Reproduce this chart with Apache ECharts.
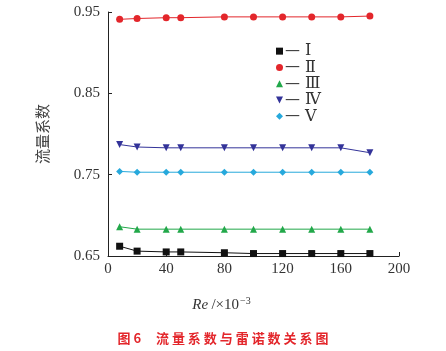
<!DOCTYPE html>
<html>
<head>
<meta charset="utf-8">
<script src="https://cdn.jsdelivr.net/npm/echarts@6/dist/echarts.min.js"></script>
<style>
  html, body { margin: 0; padding: 0; background: #fff; }
  #main { width: 446px; height: 351px; }
</style>
</head>
<body>
<div id="main"></div>
<script>
// 流量系数与雷诺数关系
var reValues = [8, 20, 40, 50, 80, 100, 120, 140, 160, 180];
var seriesNames = ['Ⅰ', 'Ⅱ', 'Ⅲ', 'Ⅳ', 'Ⅴ'];
var coefI   = [0.662, 0.656, 0.655, 0.655, 0.654, 0.653, 0.653, 0.653, 0.653, 0.653];
var coefII  = [0.941, 0.942, 0.943, 0.943, 0.944, 0.944, 0.944, 0.944, 0.944, 0.945];
var coefIII = [0.686, 0.683, 0.683, 0.683, 0.683, 0.683, 0.683, 0.683, 0.683, 0.683];
var coefIV  = [0.787, 0.784, 0.783, 0.783, 0.783, 0.783, 0.783, 0.783, 0.783, 0.777];
var coefV   = [0.754, 0.753, 0.753, 0.753, 0.753, 0.753, 0.753, 0.753, 0.753, 0.753];

var allCoefs = [coefI, coefII, coefIII, coefIV, coefV];
var colors = ['#111111', '#e3262b', '#22a84a', '#333399', '#27a9dc'];
var symbols = ['rect', 'circle', 'triangle', 'triangle', 'diamond'];
var legendIcons = ['rect', 'circle', 'triangle', 'path://M0,0 L10,0 L5,10 Z', 'diamond'];

function pairs(xs, ys) {
    var out = [];
    for (var i = 0; i < xs.length; i++) out.push([xs[i], ys[i]]);
    return out;
}

var chart = echarts.init(document.getElementById('main'));

var series = [];
for (var k = 0; k < allCoefs.length; k++) {
    series.push({
        name: seriesNames[k],
        type: 'line',
        data: pairs(reValues, allCoefs[k]),
        symbol: symbols[k],
        symbolSize: 7,
        symbolRotate: k === 3 ? 180 : 0,
        lineStyle: { width: 1, color: colors[k] },
        itemStyle: { color: colors[k] },
        emphasis: { disabled: true },
        animation: false
    });
}

var option = {
    backgroundColor: '#fff',
    color: colors,
    title: {
        text: '图 6     流 量 系 数 与 雷 诺 数 关 系 图',
        left: 'center',
        bottom: 1,
        textStyle: {
            color: '#e3262b',
            fontSize: 13,
            fontWeight: 'bold',
            fontFamily: 'Noto Sans CJK SC'
        }
    },
    legend: {
        orient: 'vertical',
        left: 271,
        top: 38,
        itemWidth: 7,
        itemHeight: 7,
        itemGap: 0,
        data: seriesNames.map(function (n, i) {
            return { name: n, icon: legendIcons[i] };
        }),
        formatter: function (name) {
            return '{d|—}{t| ' + name + '}';
        },
        textStyle: {
            color: '#333',
            lineHeight: 16.3,
            rich: {
                d: { fontSize: 15, fontFamily: 'DejaVu Sans', color: '#444', padding: [0, 0, 0, -3] },
                t: { fontSize: 16, fontFamily: 'DejaVu Serif', color: '#333' }
            }
        }
    },
    grid: {
        left: 108,
        right: 47,
        top: 12,
        bottom: 95
    },
    xAxis: {
        type: 'value',
        min: 0,
        max: 200,
        interval: 40,
        name: '{i|Re} {n|/×10}{s|−3}',
        nameLocation: 'middle',
        nameGap: 40,
        nameTextStyle: {
            padding: [0, 64, 0, 0],
            rich: {
                i: { fontSize: 15, fontStyle: 'italic', fontFamily: 'Liberation Serif', color: '#333' },
                n: { fontSize: 15, fontFamily: 'Liberation Serif', color: '#333' },
                s: { fontSize: 10, fontFamily: 'Liberation Serif', color: '#333', verticalAlign: 'top', padding: [0, 0, 8, 1] }
            }
        },
        axisLine: { show: true, lineStyle: { color: '#222', width: 1 } },
        axisTick: { show: true, inside: true, length: 4, lineStyle: { color: '#222' } },
        axisLabel: { fontSize: 15, fontFamily: 'Liberation Serif', color: '#333', margin: 6 },
        splitLine: { show: false }
    },
    yAxis: {
        type: 'value',
        min: 0.65,
        max: 0.95,
        interval: 0.1,
        name: '流量系数',
        nameLocation: 'middle',
        nameRotate: 90,
        nameGap: 58,
        nameTextStyle: { fontSize: 15, fontFamily: 'Noto Sans CJK SC', color: '#444' },
        axisLine: { show: true, lineStyle: { color: '#222', width: 1 } },
        axisTick: { show: true, inside: true, length: 4, lineStyle: { color: '#222' } },
        axisLabel: {
            fontSize: 15,
            fontFamily: 'Liberation Serif',
            color: '#333',
            margin: 8,
            formatter: function (v) { return v.toFixed(2); }
        },
        splitLine: { show: false }
    },
    series: series
};

chart.setOption(option);
</script>
</body>
</html>
